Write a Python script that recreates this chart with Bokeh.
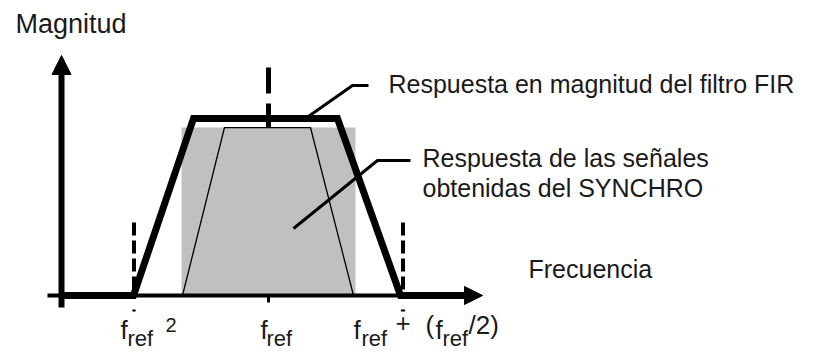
from bokeh.plotting import figure
from bokeh.models import Range1d, Arrow, NormalHead
from bokeh.core.properties import value
from bokeh.embed import file_html
from bokeh.resources import INLINE

# Frequency axis in units of f_ref, magnitude normalised to the FIR passband
marker_f = [0.5, 1.0, 1.5]              # f_ref - f_ref/2, f_ref, f_ref + f_ref/2

# FIR filter magnitude response (thick trapezoid)
fir_f = [0.2305, 0.4981, 0.7212, 1.2565, 1.4907, 1.73]
fir_mag = [0.0, 0.0, 1.0, 1.0, 0.0, 0.0]

# SYNCHRO signal response: grey band and thin trapezoid inside it
band_f = [0.6766, 1.3234]
band_mag = 0.949
sync_f = [0.6803, 0.8364, 1.1561, 1.3160]
sync_mag = [0.0, 0.949, 0.949, 0.0]

# Vertical dashed guides
side_guide_mag = [0.0, 0.412]
centre_guide_mag = [1.288, 0.949]

# Leader lines for the callouts
fir_leader_f = [1.1375, 1.3123, 1.3717]
fir_leader_mag = [1.0, 1.1864, 1.1864]
sync_leader_f = [1.0929, 1.4052, 1.5279]
sync_leader_mag = [0.3785, 0.7627, 0.7627]

FONT = value("Liberation Sans")
INK = "#1a1a1a"
LIFT = 0.051   # baseline correction for the SVG text renderer
TICK_LIFT = 0.017

p = figure(width=815, height=352, output_backend="svg", toolbar_location=None,
           x_range=Range1d(1 / 269, 816 / 269), y_range=Range1d(-57 / 177, 295 / 177),
           min_border=0, x_axis_type=None, y_axis_type=None)
p.grid.visible = False
p.outline_line_color = None
p.background_fill_color = "white"
p.border_fill_color = "white"

# grey SYNCHRO band
p.quad(left=[band_f[0]], right=[band_f[1]], bottom=[0], top=[band_mag],
       fill_color="#c0c0c0", line_color=None)
p.line(sync_f, sync_mag, line_color="black", line_width=1.3)

# axes with arrow heads
p.add_layout(Arrow(x_start=0.1784, y_start=0, x_end=1.7955, y_end=0,
                   line_color="black", line_width=4,
                   end=NormalHead(size=18, fill_color="black", line_color="black", line_width=1)))
p.add_layout(Arrow(x_start=0.2305, y_start=-0.0678, x_end=0.2305, y_end=1.3559,
                   line_color="black", line_width=6,
                   end=NormalHead(size=19, fill_color="black", line_color="black", line_width=1)))

# FIR response
p.line(fir_f, fir_mag, line_color="black", line_width=7, line_join="miter")

# dashed guides
for f in (marker_f[0], marker_f[2]):
    p.line([f, f], side_guide_mag[::-1], line_color="black", line_width=4, line_dash="13 5")
p.line([marker_f[1], marker_f[1]], centre_guide_mag, line_color="black", line_width=5,
       line_dash="26 10")

# small marks below the axis
p.segment(x0=[marker_f[1]], y0=[0], x1=[marker_f[1]], y1=[-0.0395], line_color="black", line_width=3)
p.segment(x0=[marker_f[0] - 0.006, marker_f[2] - 0.008], y0=[-0.0847, -0.0847],
          x1=[marker_f[0] + 0.006, marker_f[2] + 0.008], y1=[-0.0847, -0.0847],
          line_color="black", line_width=2)

# callout leaders
p.line(fir_leader_f, fir_leader_mag, line_color="black", line_width=3)
p.line(sync_leader_f, sync_leader_mag, line_color="black", line_width=3)


def txt(x, y, s, size, lift=LIFT):
    p.text(x=[x], y=[y + lift], text=[s], text_font=FONT, text_font_size=f"{size}px",
           text_color=INK, text_align="left", text_baseline="alphabetic")


txt(0.0595, 1.4802, "Magnitud", 27)
txt(1.4461, 1.1412, "Respuesta en magnitud del filtro FIR", 25)
txt(1.5725, 0.7232, "Respuesta de las señales", 25)
txt(1.5725, 0.5537, "obtenidas del SYNCHRO", 25)
txt(1.9665, 0.0960, "Frecuencia", 25)

# frequency labels (f with subscript "ref")
TL = LIFT + TICK_LIFT
txt(0.4498, -0.2655, "f", 26, TL)
txt(0.4758, -0.3107, "ref", 22, TL)
txt(0.6171, -0.2373, "2", 20, TL)

txt(0.9703, -0.2655, "f", 26, TL)
txt(0.9926, -0.3107, "ref", 22, TL)

txt(1.3160, -0.2655, "f", 26, TL)
txt(1.3457, -0.3107, "ref", 22, TL)
txt(1.4721, -0.2260, "+", 26, TL)
txt(1.5836, -0.2373, "(", 26, TL)
txt(1.6208, -0.2655, "f", 26, TL)
txt(1.6468, -0.3107, "ref", 22, TL)
txt(1.7435, -0.2373, "/2)", 26, TL)

open("out.html", "w").write(file_html(p, INLINE))
